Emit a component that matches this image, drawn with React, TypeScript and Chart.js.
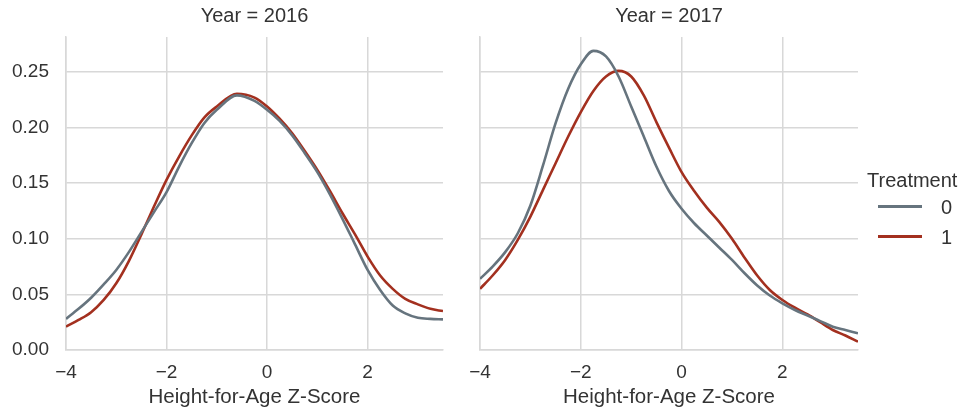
import React, { useEffect, useRef } from "react";
import { Chart, registerables } from "chart.js";
Chart.register(...registerables);

const treatments = ["0", "1"];
const years = ["2016", "2017"];

const z2016 = [-4, -3.75, -3.5, -3.25, -3, -2.75, -2.5, -2.25, -2, -1.75, -1.5, -1.25, -1, -0.6, -0.25, 0, 0.25, 0.5, 0.75, 1, 1.25, 1.5, 1.75, 2, 2.25, 2.5, 2.75, 3, 3.25, 3.5];
const t0y2016 = [0.028, 0.037, 0.047, 0.059, 0.072, 0.088, 0.106, 0.124, 0.142, 0.165, 0.186, 0.204, 0.216, 0.229, 0.224, 0.216, 0.206, 0.193, 0.177, 0.160, 0.140, 0.118, 0.095, 0.072, 0.054, 0.040, 0.033, 0.029, 0.028, 0.0275];
const t1y2016 = [0.021, 0.027, 0.034, 0.045, 0.060, 0.080, 0.104, 0.129, 0.153, 0.174, 0.193, 0.209, 0.219, 0.2305, 0.227, 0.219, 0.208, 0.195, 0.179, 0.162, 0.143, 0.123, 0.104, 0.084, 0.067, 0.055, 0.046, 0.041, 0.037, 0.035];

const z2017 = [-4, -3.75, -3.5, -3.25, -3, -2.75, -2.5, -2.25, -2, -1.75, -1.5, -1.25, -1, -0.75, -0.5, -0.25, 0, 0.25, 0.5, 0.75, 1, 1.25, 1.5, 1.75, 2, 2.25, 2.5, 2.75, 3, 3.25, 3.5];
const t0y2017 = [0.064, 0.075, 0.088, 0.105, 0.130, 0.166, 0.204, 0.235, 0.257, 0.269, 0.264, 0.246, 0.219, 0.192, 0.165, 0.143, 0.127, 0.114, 0.103, 0.092, 0.081, 0.069, 0.058, 0.049, 0.042, 0.036, 0.031, 0.026, 0.021, 0.018, 0.015];
const t1y2017 = [0.055, 0.067, 0.081, 0.099, 0.120, 0.144, 0.168, 0.192, 0.214, 0.233, 0.246, 0.251, 0.246, 0.229, 0.205, 0.182, 0.160, 0.143, 0.128, 0.115, 0.100, 0.083, 0.067, 0.054, 0.045, 0.038, 0.032, 0.025, 0.018, 0.013, 0.0075];

const xTicks = [-4, -2, 0, 2];
const yTicks = [0, 0.05, 0.1, 0.15, 0.2, 0.25];
const xMin = -4;
const xMax = 3.5;
const yMin = 0;
const yMax = 0.2815;

const colors = ["#66747e", "#a3301f"];
const gridColor = "#d8d8d8";
const textColor = "#333333";
const fontFamily = "'Liberation Sans', Arial, sans-serif";

function makeConfig(year: string, xs: number[], s0: number[], s1: number[], first: boolean): any {
  const series = [s0, s1];
  return {
    type: "line",
    data: {
      datasets: treatments.map((t, i) => ({
        label: t,
        data: xs.map((x, j) => ({ x, y: series[i][j] })),
        borderColor: colors[i],
        backgroundColor: colors[i],
        borderWidth: 2.6,
        pointRadius: 0,
        cubicInterpolationMode: "monotone",
        fill: false,
      })),
    },
    options: {
      responsive: false,
      animation: false,
      layout: { padding: { left: 0, right: first ? 7 : 12, top: 0, bottom: 0 } },
      plugins: {
        legend: { display: false },
        tooltip: { enabled: false },
        title: {
          display: true,
          text: "Year = " + year,
          fullSize: false,
          color: textColor,
          font: { family: fontFamily, size: 20, weight: "normal" },
          padding: { top: 4, bottom: 9 },
        },
      },
      scales: {
        x: {
          type: "linear",
          min: xMin,
          max: xMax,
          afterBuildTicks: (s: any) => {
            s.ticks = xTicks.map((v) => ({ value: v }));
          },
          afterFit: (s: any) => {
            s.height = 61;
          },
          ticks: {
            includeBounds: false,
            padding: 11,
            color: textColor,
            font: { family: fontFamily, size: 19 },
            callback: (v: any) => String(v).replace("-", "\u2212"),
            maxRotation: 0,
          },
          grid: { color: gridColor, lineWidth: 1.5, drawTicks: false },
          border: { display: true, color: gridColor, width: 1.5 },
          title: {
            display: true,
            text: "Height-for-Age Z-Score",
            color: textColor,
            font: { family: fontFamily, size: 20.5 },
            padding: { top: 0, bottom: 1 },
          },
        },
        y: {
          type: "linear",
          min: yMin,
          max: yMax,
          afterBuildTicks: (s: any) => {
            s.ticks = yTicks.map((v) => ({ value: v }));
          },
          afterFit: (s: any) => {
            s.width = first ? 66 : 30;
          },
          ticks: {
            display: first,
            includeBounds: false,
            padding: 17,
            color: textColor,
            font: { family: fontFamily, size: 19 },
            callback: (v: any) => Number(v).toFixed(2),
          },
          grid: { color: gridColor, lineWidth: 1.5, drawTicks: false },
          border: { display: true, color: gridColor, width: 1.5 },
        },
      },
    },
  };
}

function Panel(props: { year: string; xs: number[]; s0: number[]; s1: number[]; first: boolean; left: number; width: number }) {
  const ref = useRef<HTMLCanvasElement | null>(null);
  useEffect(() => {
    if (!ref.current) return;
    const chart = new Chart(ref.current, makeConfig(props.year, props.xs, props.s0, props.s1, props.first));
    return () => chart.destroy();
  }, []);
  return (
    <canvas
      ref={ref}
      width={props.width}
      height={411}
      style={{ position: "absolute", left: props.left, top: 0, width: props.width, height: 411 }}
    />
  );
}

export default function App() {
  return (
    <div style={{ position: "absolute", left: 0, top: 0, width: 963, height: 411, background: "#fff", overflow: "hidden" }}>
      <Panel year={years[0]} xs={z2016} s0={t0y2016} s1={t1y2016} first={true} left={0} width={450} />
      <Panel year={years[1]} xs={z2017} s0={t0y2017} s1={t1y2017} first={false} left={450} width={420} />
      <div style={{ position: "absolute", left: 867, top: 168, fontFamily, fontSize: 20, color: textColor, lineHeight: "24px" }}>
        Treatment
      </div>
      {treatments.map((t, i) => (
        <React.Fragment key={t}>
          <div style={{ position: "absolute", left: 878, top: 205 + i * 30, width: 44, height: 3, background: colors[i] }} />
          <div style={{ position: "absolute", left: 941, top: 195 + i * 30, fontFamily, fontSize: 20, color: textColor, lineHeight: "24px" }}>
            {t}
          </div>
        </React.Fragment>
      ))}
    </div>
  );
}
